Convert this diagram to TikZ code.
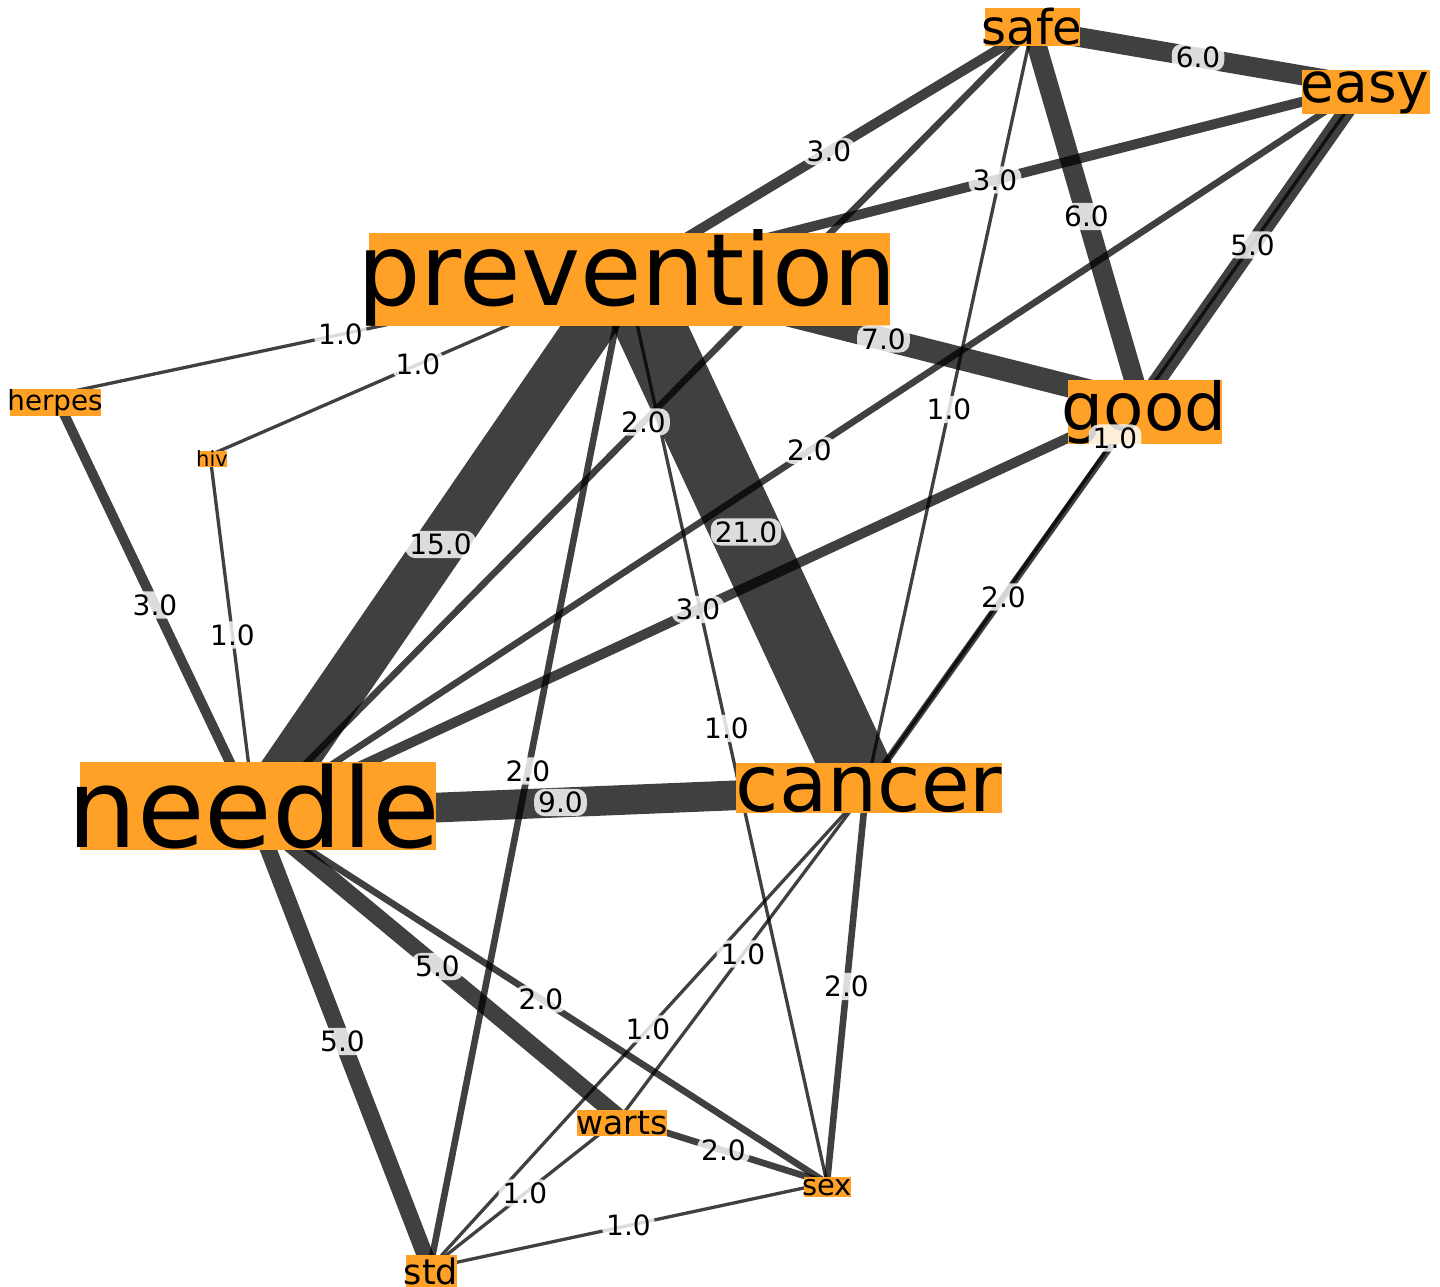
\documentclass[tikz,border=0pt]{standalone}
\usepackage{fontspec}
\setmainfont{DejaVu Sans}
\definecolor{nodeor}{RGB}{255,161,38}
\newcommand\nfs[1]{\fontsize{#1}{#1}\selectfont}
\begin{document}
\begin{tikzpicture}[x=1pt,y=-1pt,
  edge/.style={draw=black, draw opacity=0.75},
  vbox/.style={fill=nodeor, inner sep=0pt, outer sep=0pt, draw=none},
  vtxt/.style={anchor=base, inner sep=0pt, outer sep=0pt, text=black},
  lab/.style={font=\nfs{28}, fill=white, fill opacity=0.82, text opacity=1,
              rounded corners=10pt, inner xsep=4pt, inner ysep=3pt}]
\useasboundingbox (0,0) rectangle (1440,1287);
\fill[white] (0,0) rectangle (1440,1287);

% layout anchors of the vertices
\coordinate (safe) at (1032,29);
\coordinate (easy) at (1364,86);
\coordinate (prevention) at (626,274);
\coordinate (good) at (1141,404);
\coordinate (herpes) at (55,395);
\coordinate (hiv) at (210,455);
\coordinate (needle) at (255,815);
\coordinate (cancer) at (866,790);
\coordinate (warts) at (620,1118);
\coordinate (sex) at (827,1183);
\coordinate (std) at (430,1268);

% edges
\foreach \a/\b/\w in {safe/easy/6, safe/prevention/3, safe/good/6, safe/cancer/1,
  safe/needle/2, prevention/easy/3, easy/good/5, easy/cancer/1, easy/needle/2,
  prevention/good/7, prevention/herpes/1, prevention/hiv/1, prevention/needle/15,
  prevention/cancer/21, prevention/std/2, prevention/sex/1, good/cancer/2,
  good/needle/3, herpes/needle/3, hiv/needle/1, needle/cancer/9, needle/warts/5,
  needle/std/5, needle/sex/2, cancer/warts/1, cancer/std/1, cancer/sex/2,
  warts/sex/2, warts/std/1, std/sex/1}
  \draw[edge, line width={3.3pt*\w}] (\a) -- (\b);

% vertex boxes
\node[vbox, minimum width=95pt,  minimum height=38pt] (safe-box) at (1032.5,27) {};
\node[vbox, minimum width=128pt, minimum height=44pt] (easy-box) at (1366,92) {};
\node[vbox, minimum width=521pt, minimum height=93pt] (prevention-box) at (629.5,279.5) {};
\node[vbox, minimum width=154pt, minimum height=64pt] (good-box) at (1145,412) {};
\node[vbox, minimum width=91pt,  minimum height=27pt] (herpes-box) at (55.5,402.5) {};
\node[vbox, minimum width=29pt,  minimum height=16pt] (hiv-box) at (212.5,459) {};
\node[vbox, minimum width=356pt, minimum height=88pt] (needle-box) at (258,806) {};
\node[vbox, minimum width=266pt, minimum height=50pt] (cancer-box) at (869,788) {};
\node[vbox, minimum width=90pt,  minimum height=26pt] (warts-box) at (622,1123) {};
\node[vbox, minimum width=47pt,  minimum height=20pt] (sex-box) at (827.5,1187) {};
\node[vbox, minimum width=51pt,  minimum height=32pt] (std-box) at (431.5,1271) {};

% vertex texts
\node[vtxt, font=\nfs{48}]  (safe-txt) at (1032,45) {safe};
\node[vtxt, font=\nfs{55}]  (easy-txt) at (1365,102.5) {easy};
\node[vtxt, font=\nfs{100}] (prevention-txt) at (627,305) {prevention};
\node[vtxt, font=\nfs{66}]  (good-txt) at (1144,430) {good};
\node[vtxt, font=\nfs{27.7}] (herpes-txt) at (55,410) {herpes};
\node[vtxt, font=\nfs{21}]  (hiv-txt) at (212,466) {hiv};
\node[vtxt, font=\nfs{110}] (needle-txt) at (254,847) {needle};
\node[vtxt, font=\nfs{79}]  (cancer-txt) at (869,811) {cancer};
\node[vtxt, font=\nfs{33}]  (warts-txt) at (622,1134) {warts};
\node[vtxt, font=\nfs{29}]  (sex-txt) at (827,1195) {sex};
\node[vtxt, font=\nfs{35}]  (std-txt) at (431,1284) {std};

% edge labels
\foreach \a/\b/\w in {safe/easy/6, safe/prevention/3, safe/good/6, safe/cancer/1,
  safe/needle/2, prevention/easy/3, easy/good/5, easy/cancer/1, easy/needle/2,
  prevention/good/7, prevention/herpes/1, prevention/hiv/1, prevention/needle/15,
  prevention/cancer/21, prevention/std/2, prevention/sex/1, good/cancer/2,
  good/needle/3, herpes/needle/3, hiv/needle/1, needle/cancer/9, needle/warts/5,
  needle/std/5, needle/sex/2, cancer/warts/1, cancer/std/1, cancer/sex/2,
  warts/sex/2, warts/std/1, std/sex/1}
  \path (\a) -- (\b) node[lab, midway] (lab-\a-\b) {\w.0};
\end{tikzpicture}
\end{document}
